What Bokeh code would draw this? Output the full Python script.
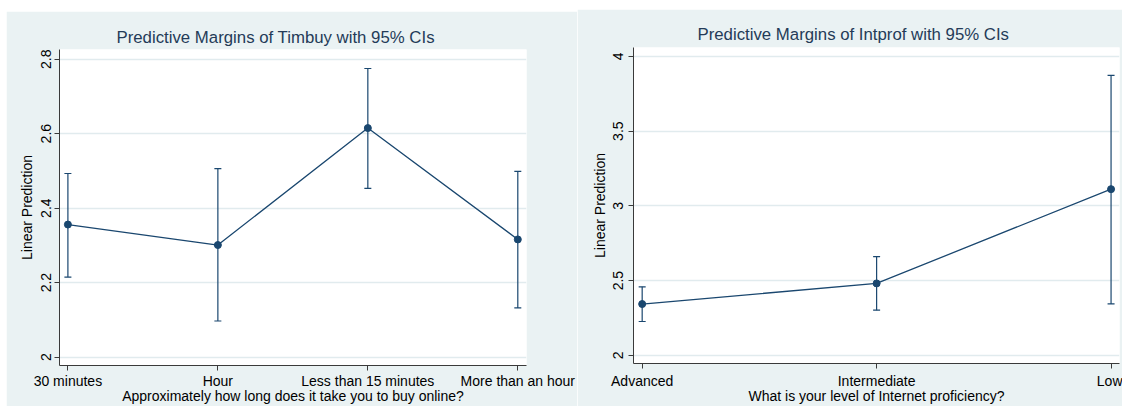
from bokeh.plotting import figure
from bokeh.models import (Range1d, FixedTicker, Whisker, ColumnDataSource, TeeHead,
                          Spacer, BoxAnnotation, Node)
from bokeh.layouts import row, column
from bokeh.embed import file_html
from bokeh.resources import INLINE

# ---- data ----
timbuy_cats = ["30 minutes", "Hour", "Less than 15 minutes", "More than an hour"]
timbuy_margin = [2.356, 2.301, 2.615, 2.316]
timbuy_lower = [2.215, 2.097, 2.453, 2.132]
timbuy_upper = [2.493, 2.506, 2.775, 2.499]
timbuy_yticks = [2.0, 2.2, 2.4, 2.6, 2.8]
timbuy_ylabels = ["2", "2.2", "2.4", "2.6", "2.8"]

intprof_cats = ["Advanced", "Intermediate", "Low"]
intprof_margin = [2.343, 2.481, 3.112]
intprof_lower = [2.226, 2.302, 2.344]
intprof_upper = [2.458, 2.660, 3.874]
intprof_yticks = [2.0, 2.5, 3.0, 3.5, 4.0]
intprof_ylabels = ["2", "2.5", "3", "3.5", "4"]

NAVY = "#1a476f"
BG = "#eaf2f3"
GRID = "#e1ebee"
AXIS = "#3a3a3a"
FONT = "Liberation Sans"


def make_panel(cats, margin, lower, upper, yticks, ylabels, title, xtitle,
               width, height, xr, yr, borders, title_offset, title_standoff,
               ystand, xstand):
    p = figure(width=width, height=height, output_backend="svg",
               toolbar_location=None, x_range=Range1d(*xr), y_range=Range1d(*yr),
               min_border_left=borders[0], min_border_right=borders[1],
               min_border_top=borders[2], min_border_bottom=borders[3])
    p.border_fill_color = BG
    p.background_fill_color = "white"
    p.outline_line_color = None

    xs = list(range(len(cats)))
    src = ColumnDataSource(dict(x=xs, m=margin, lo=lower, hi=upper))

    p.add_layout(Whisker(base="x", upper="hi", lower="lo", source=src,
                         line_color=NAVY, line_width=1.2,
                         upper_head=TeeHead(size=7, line_color=NAVY, line_width=1.2),
                         lower_head=TeeHead(size=7, line_color=NAVY, line_width=1.2)))
    p.line("x", "m", source=src, line_color=NAVY, line_width=1.3)
    p.scatter("x", "m", source=src, size=7, fill_color=NAVY, line_color=NAVY)

    xa = p.xaxis[0]
    xa.ticker = FixedTicker(ticks=xs)
    xa.major_label_overrides = {i: c for i, c in zip(xs, cats)}
    xa.axis_label = xtitle
    ya = p.yaxis[0]
    ya.ticker = FixedTicker(ticks=yticks)
    ya.major_label_overrides = {t: l for t, l in zip(yticks, ylabels)}
    ya.major_label_orientation = "vertical"
    ya.axis_label = "Linear Prediction"
    for ax in (xa, ya):
        ax.axis_line_color = AXIS
        ax.major_tick_line_color = AXIS
        ax.minor_tick_line_color = None
        ax.major_tick_out = 5
        ax.major_tick_in = 0
        ax.major_label_text_font = FONT
        ax.major_label_text_font_size = "14px"
        ax.major_label_text_color = "black"
        ax.axis_label_text_font = FONT
        ax.axis_label_text_font_size = "14px"
        ax.axis_label_text_font_style = "normal"
        ax.axis_label_text_color = "black"
    ya.major_label_standoff, ya.axis_label_standoff = ystand
    xa.major_label_standoff, xa.axis_label_standoff = xstand

    p.xgrid.visible = False
    p.ygrid.ticker = FixedTicker(ticks=yticks)
    p.ygrid.grid_line_color = GRID
    p.ygrid.grid_line_width = 1.5

    p.title.text = title
    p.title.align = "left"
    p.title.offset = title_offset
    p.title.text_font = FONT
    p.title.text_font_size = "16.8px"
    p.title.text_font_style = "normal"
    p.title.text_color = "#243b58"
    p.title.standoff = title_standoff
    return p


p1 = make_panel(timbuy_cats, timbuy_margin, timbuy_lower, timbuy_upper,
                timbuy_yticks, timbuy_ylabels,
                "Predictive Margins of Timbuy with 95% CIs",
                "Approximately how long does it take you to buy online?",
                571, 395, (-0.056, 3.058), (1.9775, 2.826), (53, 51, 38, 39), 57, 5,
                (3, 4), (2, -4))
# white gap between the two panels (the last tick label may run into it)
p1.add_layout(BoxAnnotation(left=Node(target="canvas", symbol="right", offset=-38),
                            right=Node(target="canvas", symbol="right"),
                            top=Node(target="canvas", symbol="top"),
                            bottom=Node(target="canvas", symbol="bottom"),
                            fill_color="white", fill_alpha=1.0, line_color=None,
                            level="underlay"))

p2 = make_panel(intprof_cats, intprof_margin, intprof_lower, intprof_upper,
                intprof_yticks, intprof_ylabels,
                "Predictive Margins of Intprof with 95% CIs",
                "What is your level of Internet proficiency?",
                545, 397, (-0.037, 2.036), (1.945, 4.06), (56, 3, 38, 41), 64, 8,
                (5, 3), (4, -4))

layout = row(Spacer(width=6, height=10),
             column(Spacer(width=571, height=11), p1),
             column(Spacer(width=545, height=9), p2))

open("out.html", "w").write(file_html(layout, INLINE))
